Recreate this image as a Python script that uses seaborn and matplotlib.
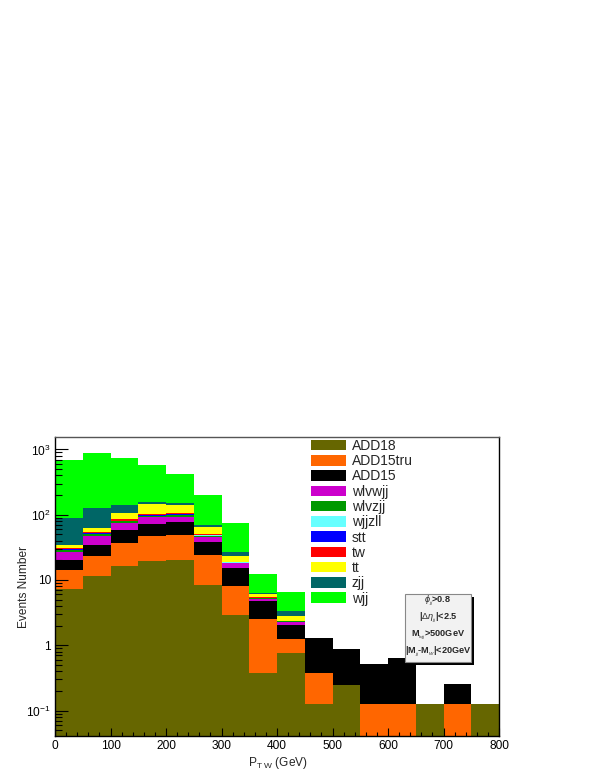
import numpy as np
import pandas as pd
import matplotlib
matplotlib.use("Agg")
import matplotlib.pyplot as plt
import seaborn as sns
from matplotlib.patches import Patch, Rectangle
from matplotlib.ticker import LogLocator, MultipleLocator, NullFormatter

# ---------------- data ----------------
bin_edges = list(range(0, 850, 50))
processes = ["ADD18", "ADD15tru", "ADD15", "wlvwjj", "wlvzjj", "wjjzll",
             "stt", "tw", "tt", "zjj", "wjj"]
colors = ["#666600", "#ff6600", "#000000", "#cc00cc", "#009900", "#66ffff",
          "#0000ff", "#ff0000", "#ffff00", "#006666", "#00ff00"]

ADD18    = [7.3, 11.6, 16.4, 19.8, 20.2, 8.4, 2.9, 0.38, 0.75, 0.126, 0.25, 0, 0, 0.126, 0, 0.126]
ADD15tru = [6.9, 11.7, 20.1, 27.2, 29.1, 15.6, 5.2, 2.17, 0.5, 0.254, 0, 0.126, 0.126, 0, 0.126, 0]
ADD15    = [6.0, 11.1, 21.8, 25.0, 27.7, 14.6, 7.3, 2.15, 0.8, 0.93, 0.63, 0.39, 0.52, 0, 0.13, 0]
wlvwjj   = [7.0, 12.6, 15.5, 19.0, 16.0, 7.4, 2.6, 0.5, 0.25, 0, 0, 0, 0, 0, 0, 0]
wlvzjj   = [1.2, 3.0, 5.0, 5.0, 5.0, 2.0, 0.5, 0.1, 0.03, 0, 0, 0, 0, 0, 0, 0]
wjjzll   = [0.4, 0.5, 0.8, 1.0, 1.0, 0.3, 0.1, 0.02, 0.01, 0, 0, 0, 0, 0, 0, 0]
stt      = [1.0, 2.0, 2.0, 2.0, 2.0, 0.8, 0.2, 0.05, 0.02, 0, 0, 0, 0, 0, 0, 0]
tw       = [0.8, 2.5, 3.0, 3.5, 4.0, 1.4, 0.3, 0.13, 0.02, 0, 0, 0, 0, 0, 0, 0]
tt       = [3.8, 7.0, 22.4, 42.5, 36.0, 13.5, 4.2, 0.5, 0.46, 0, 0, 0, 0, 0, 0, 0]
zjj      = [55.6, 63.0, 34.0, 13.0, 12.0, 5.5, 3.5, 0.3, 0.51, 0, 0, 0, 0, 0, 0, 0]
wjj      = [599, 746, 605, 419, 271, 128.5, 47.0, 5.9, 3.15, 0, 0, 0, 0, 0, 0, 0]

series = [ADD18, ADD15tru, ADD15, wlvwjj, wlvzjj, wjjzll, stt, tw, tt, zjj, wjj]

y_ticks = [0.1, 1, 10, 100, 1000]
y_ticklabels = [r"$10^{-1}$", "1", "10", r"$10^{2}$", r"$10^{3}$"]
x_ticks = list(range(0, 801, 100))
cut_lines = [r"$\phi_{_{jj}}$>0.8", r"|$\Delta\eta_{_{jj}}$|<2.5",
             r"M$_{_{l\nu jj}}$>500GeV", r"|M$_{_{jj}}$-M$_{_W}$|<20GeV"]

# ---------------- style ----------------
sns.set_theme(style="white")
plt.rcParams["font.family"] = ["Liberation Sans", "DejaVu Sans"]
plt.rcParams["mathtext.fontset"] = "custom"
plt.rcParams["mathtext.rm"] = "Liberation Sans"
plt.rcParams["mathtext.it"] = "Liberation Sans:italic"
plt.rcParams["mathtext.bf"] = "Liberation Sans:bold"

W, H = 599, 776
fig = plt.figure(figsize=(W / 100, H / 100), dpi=100)
ax = fig.add_axes([55 / W, 40 / H, 444 / W, 299 / H])

vals = np.array(series, dtype=float)
cum = np.cumsum(vals, axis=0)
centers = [(bin_edges[k] + bin_edges[k + 1]) / 2 for k in range(len(bin_edges) - 1)]

rows = []
for i, p in enumerate(processes):
    for k, c in enumerate(centers):
        rows.append({"x": c, "w": float(cum[i, k]), "proc": p})
df = pd.DataFrame(rows)

# ROOT-style THStack: draw cumulative histograms from top down
for i in reversed(range(len(processes))):
    sub = df[df["proc"] == processes[i]].reset_index(drop=True)
    sns.histplot(data=sub, x="x", weights="w", bins=bin_edges, color=colors[i],
                 alpha=1, linewidth=0, ax=ax, stat="count")

ax.set_axisbelow(False)
ax.xaxis.set_zorder(5)
ax.yaxis.set_zorder(5)
ax.set_yscale("log")
ax.set_xlim(0, 800)
ax.set_ylim(0.0407, 1553)

ax.set_yticks(y_ticks)
ax.set_yticklabels(y_ticklabels)
ax.yaxis.set_minor_locator(LogLocator(base=10, subs=np.arange(2, 10)))
ax.yaxis.set_minor_formatter(NullFormatter())
ax.set_xticks(x_ticks)
ax.set_xticklabels([str(v) for v in x_ticks])
ax.xaxis.set_minor_locator(MultipleLocator(20))

ax.tick_params(axis="both", which="both", direction="in", top=False, right=False,
               bottom=True, left=True, colors="black", labelsize=8.6, width=0.8)
ax.tick_params(axis="y", which="major", length=9.4, pad=3)
ax.tick_params(axis="y", which="minor", length=4.8)
ax.tick_params(axis="x", which="major", length=5.5, pad=3)
ax.tick_params(axis="x", which="minor", length=3.2)

for s in ax.spines.values():
    s.set_color("black")
    s.set_linewidth(1.0)
    s.set_zorder(10)
ax.spines["top"].set_color("#555555")

ax.set_ylabel("Events Number", fontsize=8.6)
ax.set_xlabel(r"P$_{\mathrm{T\ W}}$ (GeV)", fontsize=8.6)
ax.yaxis.set_label_coords(-25 / 444, 0.5)
ax.xaxis.set_label_coords(223 / 444, -19 / 299)
ax.grid(False)

# legend
handles = [Patch(facecolor=c, edgecolor="none") for c in colors]
fig.legend(handles, processes, loc="upper left",
           bbox_to_anchor=(311 / W, 1 - 439 / H), frameon=False,
           fontsize=10, handlelength=2.5, handleheight=0.8,
           handletextpad=0.45, labelspacing=0.09, borderpad=0,
           borderaxespad=0)

# cut box with shadow
bx0, by0, bx1, by1 = 405, 594, 471, 662
fig.patches.append(Rectangle(((bx0 + 3) / W, 1 - (by1 + 3) / H),
                             (bx1 - bx0) / W, (by1 - by0) / H,
                             transform=fig.transFigure, facecolor="black",
                             edgecolor="none", zorder=5))
fig.patches.append(Rectangle((bx0 / W, 1 - by1 / H),
                             (bx1 - bx0) / W, (by1 - by0) / H,
                             transform=fig.transFigure, facecolor="#f2f2f2",
                             edgecolor="#888888", linewidth=0.8, zorder=6))
line_y = [601, 618, 635, 652]
for t, yy in zip(cut_lines, line_y):
    fig.text((bx0 + bx1) / 2 / W, 1 - yy / H, t, ha="center", va="center",
             fontsize=6.6, fontweight="bold", zorder=7)

fig.savefig("out.png", dpi=100)
